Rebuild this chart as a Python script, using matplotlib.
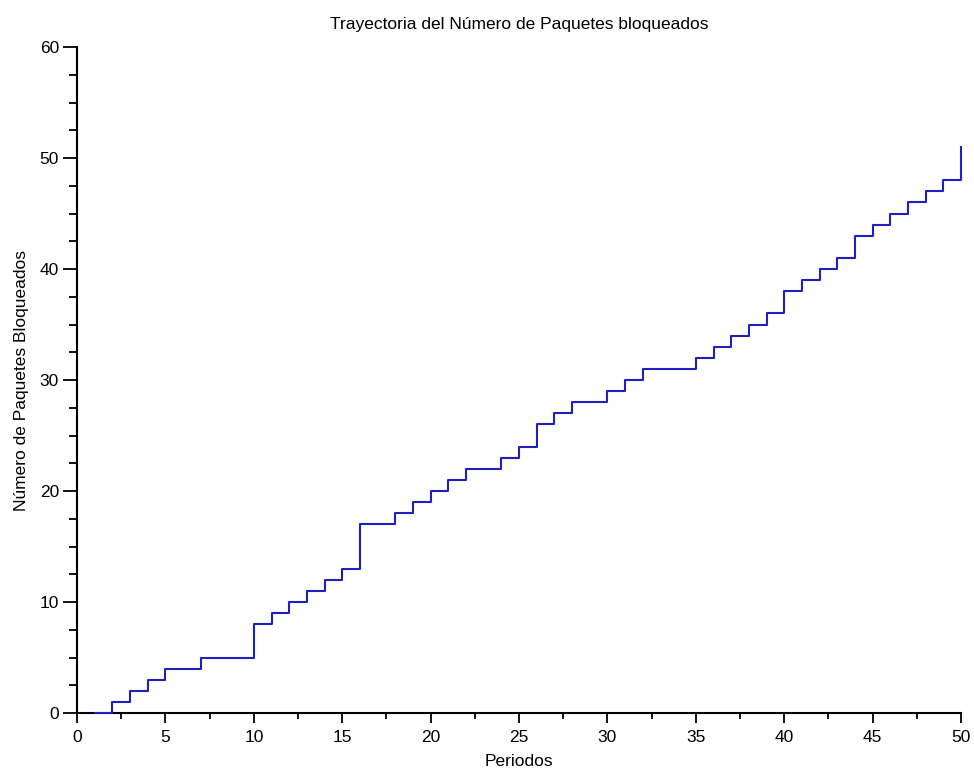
import matplotlib
matplotlib.use("Agg")
import matplotlib.pyplot as plt
from matplotlib.ticker import MultipleLocator

plt.rcParams['font.family'] = ['Liberation Sans', 'DejaVu Sans']

# periodo y paquetes bloqueados acumulados
periodos = list(range(1, 51))
bloqueados = [0, 1, 2, 3, 4, 4, 5, 5, 5, 8,
              9, 10, 11, 12, 13, 17, 17, 18, 19, 20,
              21, 22, 22, 23, 24, 26, 27, 28, 28, 29,
              30, 31, 31, 31, 32, 33, 34, 35, 36, 38,
              39, 40, 41, 43, 44, 45, 46, 47, 48, 51]

fig = plt.figure(figsize=(9.74, 7.72), dpi=100)
ax = fig.add_axes([0.0791, 0.0764, 0.9076, 0.8627])

ax.plot(periodos, bloqueados, drawstyle='steps-post', color='#1f1fbf',
        lw=1.5, zorder=5, clip_on=False)

ax.set_xlim(0, 50)
ax.set_ylim(0, 60)
ax.xaxis.set_major_locator(MultipleLocator(5))
ax.xaxis.set_minor_locator(MultipleLocator(2.5))
ax.yaxis.set_major_locator(MultipleLocator(10))
ax.yaxis.set_minor_locator(MultipleLocator(2.5))

for s in ['top', 'right']:
    ax.spines[s].set_visible(False)
for s in ['left', 'bottom']:
    ax.spines[s].set_linewidth(1.5)

ax.tick_params(axis='y', which='major', direction='out', length=10, width=1.3, labelsize=12.5, pad=3)
ax.tick_params(axis='y', which='minor', direction='out', length=6, width=1.3)
ax.tick_params(axis='x', which='major', direction='out', length=7, width=1.3, labelsize=12.5, pad=5)
ax.tick_params(axis='x', which='minor', direction='out', length=4.5, width=1.3)

ax.set_title('Trayectoria del Número de Paquetes bloqueados', fontsize=12.5, pad=13)
ax.set_xlabel('Periodos', fontsize=12.5, labelpad=7)
ax.set_ylabel('Número de Paquetes Bloqueados', fontsize=12.5, labelpad=8)

fig.savefig('out.png', dpi=100)
